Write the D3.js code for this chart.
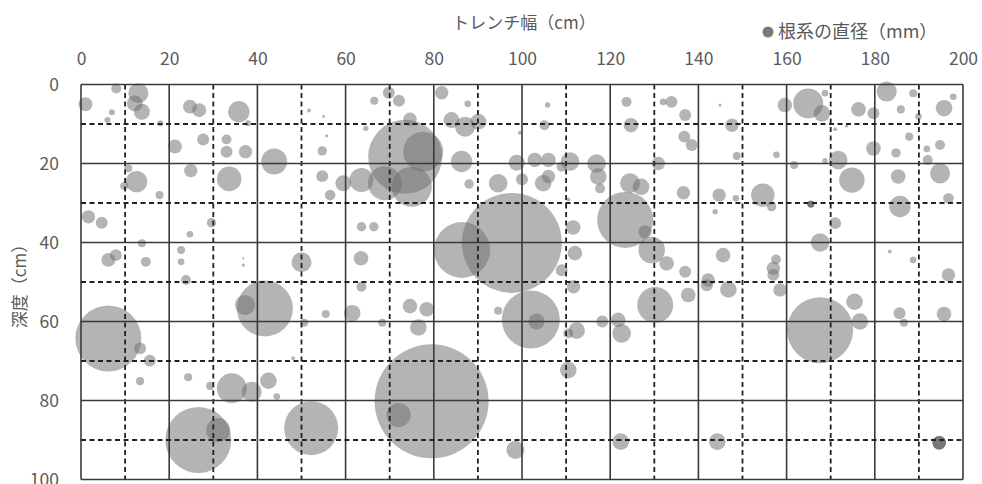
<!DOCTYPE html>
<html>
<head>
<meta charset="utf-8">
<script src="https://cdn.jsdelivr.net/npm/d3@7"></script>
<style>
  html, body { margin: 0; padding: 0; background: #fff; }
  svg text { font-family: "Noto Sans CJK JP", "Noto Sans", sans-serif; }
</style>
</head>
<body>
<div id="chart"></div>
<script>
// トレンチ断面の根系分布（x = トレンチ幅 cm, y = 深度 cm, size = 根系の直径 mm）
const xTicks = [0, 20, 40, 60, 80, 100, 120, 140, 160, 180, 200];
const yTicks = [0, 20, 40, 60, 80, 100];

const rootX = [
  1, 8, 7, 6, 13, 12.2, 13.8, 18, 24.7, 26.8, 35.8, 37.9, 21.3, 27.7, 33, 33, 37.3, 43.8,
  10.7, 12.6, 9.8, 17.8, 24.9, 33.6, 1.7, 4.7, 29.6, 24.7, 13.8, 6.2, 7.9, 14.7, 22.7, 22.7,
  36.8, 36.8, 23.8,
  51.7, 55, 66.5, 69.8, 72.1, 81.8, 87.7, 74.6, 64.6, 55.7, 54.7, 84, 87.1, 90.1, 73.5, 77.6,
  75, 68.9, 63.6, 59.5, 54.7, 56.5, 86.3, 88, 94.6, 98.8, 63.6, 66.4, 50, 63.5, 86.4, 97.7,
  105.8, 105.1, 99.5, 123.7, 124.7, 132, 133.9, 137, 144.9, 147.6, 136.8, 138.5, 148.7,
  102.9, 106, 110.9, 109, 116.9, 117.3, 117.7, 104.8, 106, 100, 130.9, 124.5, 127, 123.4,
  127.9, 136.6, 144.7, 148.5, 143.8, 110.5, 111.6, 112, 109, 129.4, 132.8, 137, 145.6, 142.2,
  164.9, 159.6, 168, 168.7, 176.3, 179.7, 182.7, 185.9, 188.7, 189.9, 197.8, 195.7, 171,
  173.6, 187.8, 179.7, 184.8, 194.8, 191.8, 192, 157.7, 161.7, 171.7, 168.7, 174.8, 185.3,
  194.8, 154.6, 156.6, 185.7, 196.7, 171, 167.6, 183.4, 188.7, 157.6, 157, 157, 196.7,
  6.2, 13.4, 15.6, 13.4, 24.3, 29.3, 34.2, 38.7, 42.5, 44.4, 41.7, 37.2, 48.1, 26.6, 31.1, 52.2,
  63.6, 61.5, 55.5, 50.6, 68.3, 74.6, 78.4, 76.5, 94.6, 102, 79.5, 72, 98.5, 103.3,
  111.7, 112.4, 110.5, 118.2, 121.8, 122.6, 130.2, 137.7, 141.9, 146.8, 110.5, 122.4, 144.3,
  167.6, 175.4, 176.6, 158.5, 185.6, 186.6, 195.7,
  165.5, 165.5, 165.5, 165.5, 194.6, 194.6, 194.6, 194.6
];

const rootY = [
  5, 1, 7, 9, 2.2, 4.8, 6.9, 9.8, 5.6, 6.5, 6.9, 9.8, 15.7, 13.9, 13.9, 17, 17, 19.5,
  21.2, 24.6, 25.7, 28, 21.8, 23.9, 33.5, 35, 35, 37.9, 40.2, 44.4, 43.2, 44.9, 41.9, 44.9,
  44, 45.7, 49.5,
  6.6, 8.1, 4.1, 2.1, 4.1, 2.1, 4.9, 8.8, 11.1, 13, 16.8, 9, 10.7, 9.4, 18.3, 17,
  25.9, 25, 24.2, 25, 23.2, 28, 19.5, 25.2, 25, 19.8, 36, 36, 45, 44, 41.9, 40.1,
  5.2, 10.3, 12.2, 4.4, 10.3, 4.4, 4.4, 7.7, 5.2, 10.3, 13.2, 15.3, 18.1,
  19.1, 19.1, 19.5, 20.8, 20, 23.3, 26.3, 25, 23.3, 24, 20, 25, 25.9, 34.3,
  37.3, 27.4, 28, 28.8, 32.2, 29.1, 36.2, 42.7, 47, 41.9, 45.3, 47.4, 43.2, 49.5,
  4.8, 5.2, 7.3, 2.2, 6.3, 7.3, 1.8, 6.3, 2.2, 8.1, 3.1, 6, 11.3,
  10.5, 13.2, 16.2, 17.3, 15.3, 16.3, 19.1, 17.8, 20.4, 19.1, 19.3, 24.2, 23.3,
  22.5, 28, 30.9, 30.9, 28.8, 35.1, 40, 42.3, 44.4, 44.3, 46.5, 48.2, 48.2,
  64.3, 66.8, 69.9, 75.1, 74.1, 76.3, 76.9, 77.8, 75, 79, 56.7, 55.8, 69.3, 90, 87.5, 87,
  51.2, 57.9, 58.1, 60.3, 60.3, 56.1, 56.9, 61.5, 57.3, 59.5, 80.2, 83.7, 92.5, 60,
  51.2, 62.3, 63, 60, 59.6, 63, 55.8, 53.3, 50.8, 51.9, 72.3, 90.4, 90.4,
  62.2, 55, 60, 52, 57.9, 60.3, 58.1,
  30.3, 30.3, 30.3, 30.3, 90.7, 90.7, 90.7, 90.7
];

const rootSize = [
  0.75, 0.38, 0.14, 0.14, 1.54, 0.98, 0.98, 0.14, 0.75, 0.75, 1.76, 0.14, 0.75, 0.55, 0.38, 0.55, 0.69, 2.6,
  0.25, 1.76, 0.25, 0.25, 0.69, 2.33, 0.69, 0.55, 0.34, 0.17, 0.25, 0.75, 0.55, 0.38, 0.25, 0.17,
  0.02, 0.04, 0.38,
  0.06, 0.03, 0.25, 0.55, 0.55, 0.69, 0.17, 0.69, 0.11, 0.04, 0.34, 0.98, 1.54, 0.98, 21.06, 6.15,
  6.15, 4.45, 2.22, 0.98, 0.55, 0.43, 1.76, 0.34, 1.33, 0.98, 0.34, 0.34, 1.54, 0.82, 12.06, 38.46,
  0.11, 0.38, 0.06, 0.38, 0.82, 0.17, 0.55, 0.55, 0.04, 0.69, 0.55, 0.55, 0.25,
  0.82, 0.82, 1.33, 0.38, 1.33, 1.06, 0.38, 1.06, 0.69, 0.55, 0.69, 1.54, 1.06, 12.06,
  0.69, 0.69, 0.69, 0.17, 0.11, 0.06, 0.82, 0.82, 0.55, 2.72, 0.82, 0.55, 0.82, 0.69,
  3.46, 0.82, 1.06, 0.17, 0.82, 0.55, 1.54, 0.25, 0.25, 0.17, 0.17, 1.06, 0.06,
  0.04, 0.25, 0.82, 0.34, 0.38, 0.17, 0.38, 0.17, 0.25, 1.33, 0.11, 2.48, 0.82,
  1.54, 2.11, 0.34, 1.76, 0.43, 0.55, 1.33, 0.06, 0.17, 0.38, 0.69, 0.55, 0.69,
  16.75, 0.55, 0.55, 0.25, 0.25, 0.25, 3.46, 1.54, 1.06, 0.17, 12.06, 1.54, 0.06, 16.75, 2.22, 11.2,
  0.38, 1.06, 0.25, 0.25, 0.25, 0.82, 0.82, 1.06, 0.25, 12.94, 50, 2.22, 1.25, 0.98,
  0.69, 1.06, 0.38, 0.55, 0.82, 1.33, 4.98, 0.82, 0.55, 1.06, 1.06, 1.06, 1.06,
  16.75, 1.06, 1.06, 0.69, 0.55, 0.25, 0.82,
  0.17, 0.17, 0.17, 0.17, 0.69, 0.69, 0.69, 0.69
];

const W = 982, H = 484;
const plot = { left: 81, right: 963, top: 84.5, bottom: 479.5 };

const svg = d3.select('#chart')
  .append('svg')
    .attr('width', W)
    .attr('height', H)
    .attr('viewBox', [0, 0, W, H]);

svg.append('rect').attr('width', W).attr('height', H).attr('fill', '#fff');

const x = d3.scaleLinear().domain([0, 200]).range([plot.left, plot.right]);
const y = d3.scaleLinear().domain([0, 100]).range([plot.top, plot.bottom]);
const r = d3.scaleSqrt().domain([0, 50]).range([0, 57]);

const points = rootX.map((d, i) => ({ x: d, y: rootY[i], size: rootSize[i] }));

// バブル（大きい順に描く）
svg.append('g')
  .selectAll('circle')
  .data(points.slice().sort((a, b) => b.size - a.size))
  .join('circle')
    .attr('cx', d => x(d.x))
    .attr('cy', d => y(d.y))
    .attr('r', d => r(d.size))
    .attr('fill', '#707070')
    .attr('fill-opacity', 0.52);

// グリッド（20 cm 実線・10 cm 破線）
const grid = svg.append('g');
const xLines = d3.range(0, 201, 10);
const yLines = d3.range(0, 101, 10);

grid.selectAll('line.v')
  .data(xLines)
  .join('line')
    .attr('x1', d => x(d)).attr('x2', d => x(d))
    .attr('y1', y(0)).attr('y2', y(100))
    .attr('stroke', d => d % 20 === 0 ? '#3a3a3a' : '#222')
    .attr('stroke-width', d => d % 20 === 0 ? 1.6 : 1.8)
    .attr('stroke-dasharray', d => d % 20 === 0 ? null : '5,3.5');

grid.selectAll('line.h')
  .data(yLines)
  .join('line')
    .attr('y1', d => y(d)).attr('y2', d => y(d))
    .attr('x1', x(0)).attr('x2', x(200))
    .attr('stroke', d => d % 20 === 0 ? '#3a3a3a' : '#222')
    .attr('stroke-width', d => d % 20 === 0 ? 1.6 : 1.8)
    .attr('stroke-dasharray', d => d % 20 === 0 ? null : '5,3.5');

// 軸
const xAxis = svg.append('g')
  .attr('transform', `translate(0,${plot.top})`)
  .call(d3.axisTop(x).tickValues(xTicks).tickSize(0).tickPadding(20));

const yAxis = svg.append('g')
  .attr('transform', `translate(${plot.left},0)`)
  .call(d3.axisLeft(y).tickValues(yTicks).tickSize(0).tickPadding(22));

[xAxis, yAxis].forEach(g => {
  g.select('.domain').remove();
  g.selectAll('text')
    .attr('fill', '#595959')
    .attr('font-size', 17.5)
    .style('font-family', '"Noto Sans CJK JP", sans-serif');
});

// 軸タイトル
svg.append('text')
  .attr('x', 524).attr('y', 29)
  .attr('text-anchor', 'middle')
  .attr('font-size', 17)
  .attr('fill', '#595959')
  .text('トレンチ幅（cm）');

svg.append('text')
  .attr('transform', `translate(26,${(plot.top + plot.bottom) / 2}) rotate(-90)`)
  .attr('text-anchor', 'middle')
  .attr('font-size', 17)
  .attr('fill', '#595959')
  .text('深度（cm）');

// 凡例
const legend = svg.append('g').attr('transform', 'translate(768,32)');
legend.append('circle')
  .attr('r', 5.5)
  .attr('fill', '#7a7a7a');
legend.append('text')
  .attr('x', 10).attr('y', 6)
  .attr('font-size', 18)
  .attr('fill', '#595959')
  .text('根系の直径（mm）');
</script>
</body>
</html>
